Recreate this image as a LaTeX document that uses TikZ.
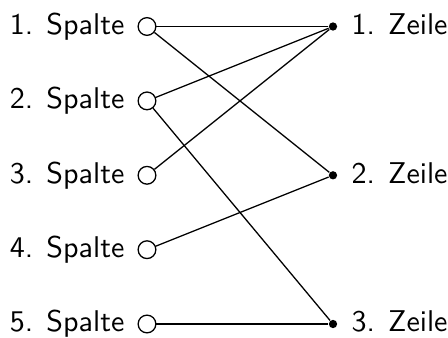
\documentclass[tikz,border=0pt]{standalone}
\begin{document}
\begin{tikzpicture}[x=0.35pt,y=-0.35pt,
 src/.style={circle,draw,fill=white,minimum size=6.2pt,inner sep=0pt,line width=0.45pt},
 dst/.style={circle,fill=black,minimum size=2.9pt,inner sep=0pt},
 lab/.style={font=\sffamily\fontsize{10.5}{12}\selectfont,inner sep=0pt},
 conn/.style={line width=0.45pt}]
\useasboundingbox (0,0) rectangle (448,338);
\foreach \i/\y in {1/26.5,2/100.9,3/175.3,4/249.7,5/324}{
  \node[src] (s\i) at (147,\y) {};
  \node[lab,anchor=base east] (ls\i) at (125,\y+8) {\i. Spalte};
}
\foreach \i/\y in {1/26.5,2/175.3,3/324}{
  \node[dst] (z\i) at (333,\y) {};
  \node[lab,anchor=base west] (lz\i) at (351,\y+8) {\i. Zeile};
}
\draw[conn] (s1) -- (z1);
\draw[conn] (s1) -- (z2);
\draw[conn] (s2) -- (z1);
\draw[conn] (s2) -- (z3);
\draw[conn] (s3) -- (z1);
\draw[conn] (s4) -- (z2);
\draw[conn] (s5) -- (z3);
\end{tikzpicture}
\end{document}
